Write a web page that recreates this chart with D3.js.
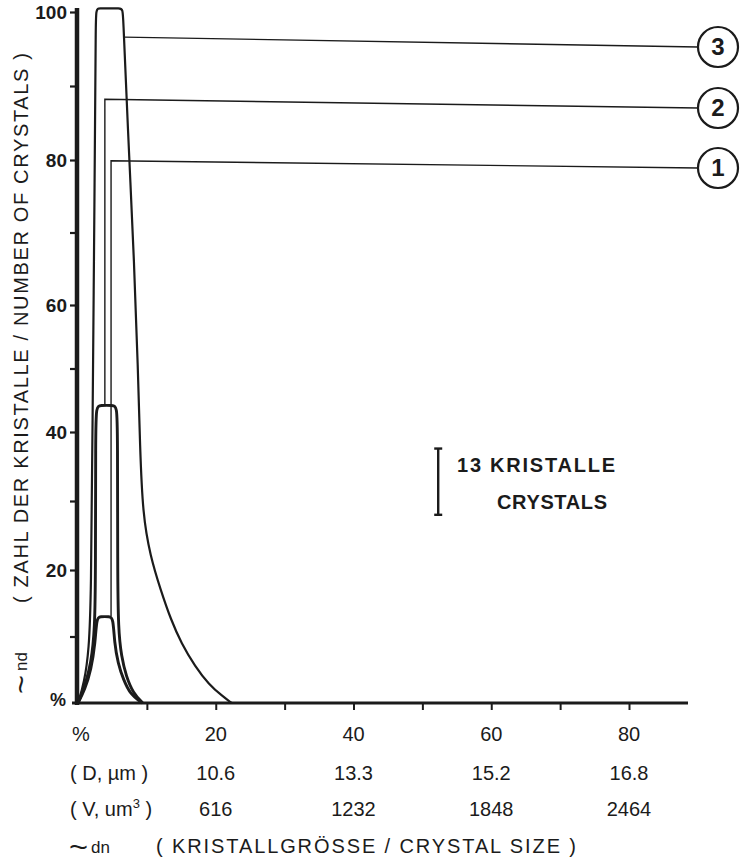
<!DOCTYPE html>
<html>
<head>
<meta charset="utf-8">
<script src="https://cdn.jsdelivr.net/npm/d3@7"></script>
<style>
  body { margin: 0; background: #fff; }
  svg { display: block; }
</style>
</head>
<body>
<svg id="chart" width="755" height="861"></svg>
<script>
// ---- data ----
const pctTicks = [20, 40, 60, 80];
const diameterLabels = ["10.6", "13.3", "15.2", "16.8"];
const volumeLabels = ["616", "1232", "1848", "2464"];
const yTickLabels = [20, 40, 60, 80, 100];

// [crystal size %, number of crystals %]  (control points of a B-spline)
const curve1 = [[0,0],[1,2],[1.9,5],[2.5,9],[2.7,12.8],[3.2,13],[4.6,13],[5.1,12.8],[5.3,9],[5.8,6],[6.6,3.5],[7.6,1.3],[9.3,0]];
const curve2 = [[0,0],[1,2.5],[1.9,6],[2.45,11],[2.55,20],[2.55,40],[2.65,44],[3.2,44.2],[5.1,44.2],[5.65,44],[5.75,40],[5.75,20],[5.85,11],[6.3,7],[7,4],[8,1.5],[9.4,0]];
const curve3 = [[0,0],[0.9,3],[1.6,8],[1.9,16],[2.1,40],[2.4,75],[2.6,100.5],[2.6,100.5],[6.5,100.5],[6.5,100.5],[7.2,85],[8.2,65],[8.7,50],[9.0,38],[9.4,28],[10.5,22],[12,17],[13.5,12.5],[15,9],[17,5.5],[19,2.8],[21,1],[22.3,0]];

const curveIds = ["1", "2", "3"];
// where each leader leaves its curve [size %, number %] and how high it climbs
const leaderFoot = [[4.8, 13], [3.9, 44.2], [6.7, 96.6]];
const leaderTop = [79.9, 88.2, 96.6];

const scaleBarRange = [28, 37.6];   // 10 % on the y scale
const scaleBarText = ["13 KRISTALLE", "CRYSTALS"];

// ---- layout ----
const svg = d3.select("#chart");
const ink = "#1b1b1b";
const font = "'Liberation Sans', Arial, sans-serif";

const x = d3.scaleLinear().domain([0, 80]).range([78, 629]);
// the scan is slightly stretched, so the y scale is piecewise
const y = d3.scaleLinear().domain([0, 20, 40, 60, 80, 100]).range([703, 570, 432, 305, 160, 12]);

// Y AXIS
const yAxis = svg.append("g")
    .attr("transform", `translate(${x(0) - 1},0)`)
    .call(d3.axisLeft(y).tickValues(d3.range(10, 101, 10)).tickSize(7).tickPadding(3)
        .tickFormat(d => yTickLabels.includes(d) ? d : ""));
yAxis.select(".domain").remove();
yAxis.selectAll("line").attr("stroke", ink).attr("stroke-width", 2.2);
yAxis.selectAll("text")
    .attr("fill", ink)
    .style("font-family", font)
    .style("font-size", "19px")
    .style("font-weight", "bold");

svg.append("line")
    .attr("x1", x(0) - 1).attr("x2", x(0) - 1)
    .attr("y1", y(100) - 4).attr("y2", y(0) + 2)
    .attr("stroke", ink).attr("stroke-width", 4.5);

svg.append("text")
    .attr("x", 66).attr("y", y(0) + 3)
    .attr("text-anchor", "end")
    .attr("fill", ink)
    .style("font-family", font).style("font-size", "18px").style("font-weight", "bold")
    .text("%");

// X AXIS
const xAxis = svg.append("g")
    .attr("transform", `translate(0,${y(0)})`)
    .call(d3.axisBottom(x).tickValues(d3.range(10, 81, 10)).tickSize(7).tickFormat(""));
xAxis.select(".domain").remove();
xAxis.selectAll("line").attr("stroke", ink).attr("stroke-width", 2);

svg.append("line")
    .attr("x1", 72).attr("x2", 688)
    .attr("y1", y(0)).attr("y2", y(0))
    .attr("stroke", ink).attr("stroke-width", 3.2);

const rowStyle = sel => sel.attr("fill", ink)
    .style("font-family", font).style("font-size", "20px");

svg.append("text").attr("x", 72).attr("y", 741).text("%").call(rowStyle);
svg.selectAll(".pct-label").data(pctTicks).enter().append("text")
    .attr("class", "pct-label")
    .attr("x", d => x(d)).attr("y", 741)
    .attr("text-anchor", "middle")
    .text(d => d).call(rowStyle);

svg.append("text").attr("x", 70).attr("y", 780).text("( D, µm )").call(rowStyle);
svg.selectAll(".d-label").data(diameterLabels).enter().append("text")
    .attr("class", "d-label")
    .attr("x", (d, i) => x(pctTicks[i])).attr("y", 780)
    .attr("text-anchor", "middle")
    .text(d => d).call(rowStyle);

const vRow = svg.append("text").attr("x", 70).attr("y", 816).call(rowStyle);
vRow.append("tspan").text("( V, um");
vRow.append("tspan").attr("dy", -8).style("font-size", "13px").text("3");
vRow.append("tspan").attr("dy", 8).text(" )");
svg.selectAll(".v-label").data(volumeLabels).enter().append("text")
    .attr("class", "v-label")
    .attr("x", (d, i) => x(pctTicks[i])).attr("y", 816)
    .attr("text-anchor", "middle")
    .text(d => d).call(rowStyle);

// x title (the tilde is stretched wide, as on the drawing)
svg.append("text").attr("x", 69).attr("y", 857)
    .attr("textLength", 19).attr("lengthAdjust", "spacingAndGlyphs")
    .text("~").call(rowStyle).style("font-size", "30px");
svg.append("text").attr("x", 91).attr("y", 853).text("dn").call(rowStyle).style("font-size", "17px");
svg.append("text").attr("x", 156).attr("y", 853)
    .attr("textLength", 420).attr("lengthAdjust", "spacing")
    .text("( KRISTALLGRÖSSE / CRYSTAL SIZE )").call(rowStyle);

// y title
svg.append("text")
    .attr("transform", "translate(31,694) rotate(-90)")
    .attr("textLength", 19).attr("lengthAdjust", "spacingAndGlyphs")
    .text("~").call(rowStyle).style("font-size", "30px");
svg.append("text")
    .attr("transform", "translate(27,671) rotate(-90)")
    .text("nd").call(rowStyle).style("font-size", "17px");
svg.append("text")
    .attr("transform", "translate(28,603) rotate(-90)")
    .attr("textLength", 550).attr("lengthAdjust", "spacing")
    .text("( ZAHL DER KRISTALLE / NUMBER OF CRYSTALS )").call(rowStyle);

// CURVES
const line = d3.line()
    .x(d => x(d[0]))
    .y(d => y(d[1]))
    .curve(d3.curveBasis);

[curve1, curve2, curve3].forEach((c, i) => {
    svg.append("path")
        .datum(c)
        .attr("fill", "none")
        .attr("stroke", ink)
        .attr("stroke-width", i === 2 ? 2.2 : 2.9)
        .attr("stroke-linejoin", "round")
        .attr("d", line);
});

// LEADERS + NUMBERED BADGES
const badgeX = 718, badgeR = 20;
const badgeY = [168, 108, 47];

curveIds.forEach((id, i) => {
    const fx = x(leaderFoot[i][0]);
    const path = d3.path();
    path.moveTo(fx, y(leaderFoot[i][1]));
    path.lineTo(fx, y(leaderTop[i]));
    path.lineTo(badgeX - badgeR, badgeY[i]);
    svg.append("path")
        .attr("d", path.toString())
        .attr("fill", "none")
        .attr("stroke", ink)
        .attr("stroke-width", 1.4);

    svg.append("circle")
        .attr("cx", badgeX).attr("cy", badgeY[i]).attr("r", badgeR)
        .attr("fill", "#fff")
        .attr("stroke", ink).attr("stroke-width", 2.2);
    svg.append("text")
        .attr("x", badgeX).attr("y", badgeY[i] + 8)
        .attr("text-anchor", "middle")
        .attr("fill", ink)
        .style("font-family", font).style("font-size", "24px").style("font-weight", "bold")
        .text(id);
});

// SCALE BAR
const barX = x(52.3);
svg.append("line")
    .attr("x1", barX).attr("x2", barX)
    .attr("y1", y(scaleBarRange[0])).attr("y2", y(scaleBarRange[1]))
    .attr("stroke", ink).attr("stroke-width", 2.4);
scaleBarRange.forEach(v => {
    svg.append("line")
        .attr("x1", barX - 4).attr("x2", barX + 4)
        .attr("y1", y(v)).attr("y2", y(v))
        .attr("stroke", ink).attr("stroke-width", 2.4);
});
svg.append("text")
    .attr("x", 457).attr("y", 472)
    .attr("textLength", 158).attr("lengthAdjust", "spacing")
    .attr("fill", ink)
    .style("font-family", font).style("font-size", "20px").style("font-weight", "bold")
    .text(scaleBarText[0]);
svg.append("text")
    .attr("x", 497).attr("y", 509)
    .attr("textLength", 110).attr("lengthAdjust", "spacing")
    .attr("fill", ink)
    .style("font-family", font).style("font-size", "20px").style("font-weight", "bold")
    .text(scaleBarText[1]);
</script>
</body>
</html>
